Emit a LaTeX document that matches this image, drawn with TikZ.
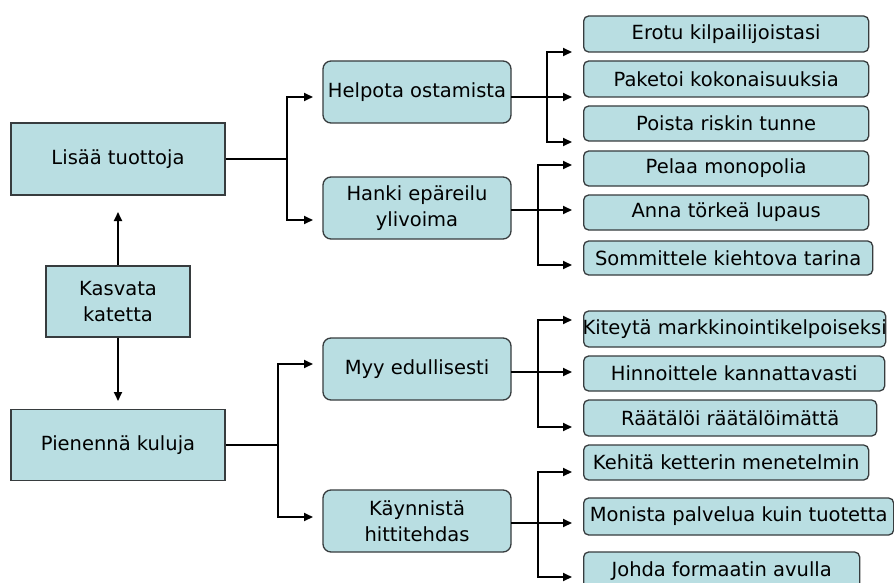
\documentclass[tikz,border=0pt]{standalone}
\usepackage{fontspec}
\setmainfont{DejaVu Sans}
\usetikzlibrary{arrows.meta}
\definecolor{boxfill}{RGB}{185,222,226}
\definecolor{boxline}{RGB}{55,60,62}
\tikzset{
  base/.style={draw=boxline, line width=1.3pt, fill=boxfill, inner sep=0pt, font=\fontsize{19.5}{25.5}\selectfont, align=center},
  leftbox/.style={base, sharp corners},
  midbox/.style={base, rounded corners=8pt, minimum width=188pt, minimum height=62pt},
  rightbox/.style={base, rounded corners=5pt, anchor=west},
  ln/.style={line width=2pt, black},
  arr/.style={ln, -{Triangle[length=9pt,width=8pt]}}
}
\begin{document}
\begin{tikzpicture}[x=1pt,y=-1pt]
\useasboundingbox[fill=white] (0,0) rectangle (894,583);
% left column
\node[leftbox, minimum width=214pt, minimum height=72pt] (L1) at (118,159) {Lisää tuottoja};
\node[leftbox, minimum width=144pt, minimum height=71pt] (K) at (118,301.5) {Kasvata\\katetta};
\node[leftbox, minimum width=214pt, minimum height=71pt] (L2) at (118,445) {Pienennä kuluja};
% middle column
\node[midbox] (M1) at (417,92) {Helpota ostamista};
\node[midbox] (M2) at (417,208) {Hanki epäreilu\\ylivoima};
\node[midbox] (M3) at (417,369) {Myy edullisesti};
\node[midbox] (M4) at (417,521) {Käynnistä\\hittitehdas};
% right column
\node[rightbox, minimum width=285pt, minimum height=36pt] (R1) at (583,34) {Erotu kilpailijoistasi};
\node[rightbox, minimum width=285pt, minimum height=36pt] (R2) at (583,79) {Paketoi kokonaisuuksia};
\node[rightbox, minimum width=285pt, minimum height=35pt] (R3) at (583,123.5) {Poista riskin tunne};
\node[rightbox, minimum width=285pt, minimum height=35pt] (R4) at (583,168.5) {Pelaa monopolia};
\node[rightbox, minimum width=285pt, minimum height=35pt] (R5) at (583,212.5) {Anna törkeä lupaus};
\node[rightbox, minimum width=289pt, minimum height=34pt] (R6) at (583,258) {Sommittele kiehtova tarina};
\node[rightbox, minimum width=302pt, minimum height=36pt] (R7) at (583,329) {\makebox[302pt][c]{Kiteytä markkinointikelpoiseksi}};
\node[rightbox, minimum width=301pt, minimum height=35pt] (R8) at (583,373.5) {Hinnoittele kannattavasti};
\node[rightbox, minimum width=293pt, minimum height=36pt] (R9) at (583,418) {Räätälöi räätälöimättä};
\node[rightbox, minimum width=285pt, minimum height=35pt] (R10) at (583,462.5) {Kehitä ketterin menetelmin};
\node[rightbox, minimum width=310pt, minimum height=37pt] (R11) at (583,516.5) {\makebox[308pt][c]{Monista palvelua kuin tuotetta}};
\node[rightbox, minimum width=276pt, minimum height=38pt] (R12) at (583,571) {Johda formaatin avulla};
% coordinates
\coordinate (kup) at (118,212);
\coordinate (kdn) at (118,401);
\coordinate (b1) at (287,159);
\coordinate (b2) at (278,445);
\coordinate (am1) at (313,97);
\coordinate (am2) at (313,220);
\coordinate (am3) at (313,364);
\coordinate (am4) at (313,517);
\coordinate (o1) at (511,97);
\coordinate (o2) at (511,210);
\coordinate (o3) at (511,372);
\coordinate (o4) at (511,523);
\coordinate (v1) at (547,97);
\coordinate (v2) at (538,210);
\coordinate (v3) at (538,372);
\coordinate (v4) at (538,523);
\coordinate (t1) at (572,52);
\coordinate (t2) at (572,97);
\coordinate (t3) at (572,142);
\coordinate (t4) at (572,165);
\coordinate (t5) at (572,210);
\coordinate (t6) at (572,265);
\coordinate (t7) at (572,320);
\coordinate (t8) at (572,372);
\coordinate (t9) at (572,427);
\coordinate (t10) at (572,472);
\coordinate (t11) at (572,523);
\coordinate (t12) at (572,577);
% connectors
\draw[arr] (K.north) -- (kup);
\draw[arr] (K.south) -- (kdn);
\draw[ln] (L1.east) -- (b1);
\draw[arr] (b1) |- (am1);
\draw[arr] (b1) |- (am2);
\draw[ln] (L2.east) -- (b2);
\draw[arr] (b2) |- (am3);
\draw[arr] (b2) |- (am4);
\draw[ln] (o1) -- (v1);
\draw[arr] (v1) |- (t1);
\draw[arr] (v1) -- (t2);
\draw[arr] (v1) |- (t3);
\draw[ln] (o2) -- (v2);
\draw[arr] (v2) |- (t4);
\draw[arr] (v2) -- (t5);
\draw[arr] (v2) |- (t6);
\draw[ln] (o3) -- (v3);
\draw[arr] (v3) |- (t7);
\draw[arr] (v3) -- (t8);
\draw[arr] (v3) |- (t9);
\draw[ln] (o4) -- (v4);
\draw[arr] (v4) |- (t10);
\draw[arr] (v4) -- (t11);
\draw[arr] (v4) |- (t12);
\end{tikzpicture}
\end{document}
